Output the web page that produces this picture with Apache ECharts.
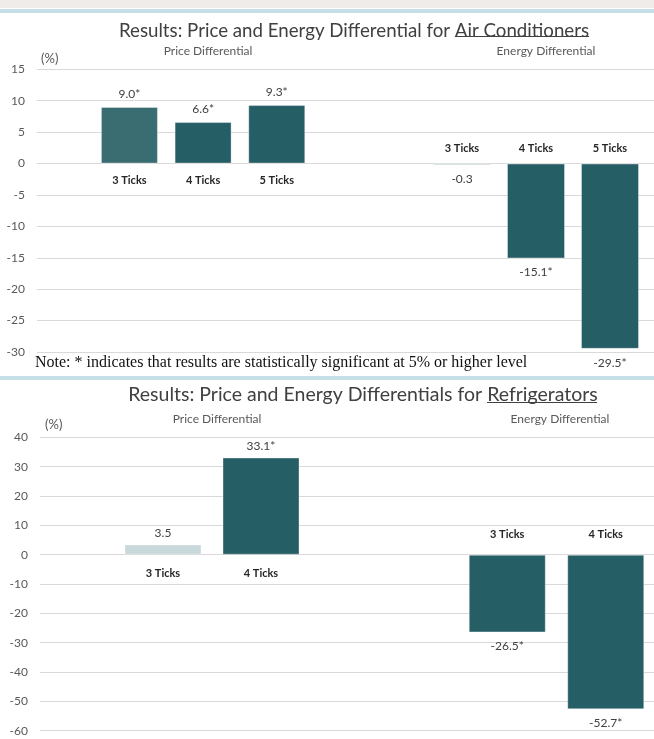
<!DOCTYPE html>
<html>
<head>
<meta charset="utf-8">
<script src="https://cdn.jsdelivr.net/npm/echarts@6/dist/echarts.min.js"></script>
<style>
  html, body { margin: 0; padding: 0; background: #fff; }
  #chart { width: 654px; height: 739px; }
</style>
</head>
<body>
<div id="chart"></div>
<script>
// air conditioners
const acCategories = ['3 Ticks', '4 Ticks', '5 Ticks'];
const acPrice = [9.0, 6.6, 9.3];
const acPriceSig = [true, true, true];
const acEnergy = [-0.3, -15.1, -29.5];
const acEnergySig = [false, true, true];
const acTicks = { min: -30, max: 15, interval: 5 };

// refrigerators
const refCategories = ['3 Ticks', '4 Ticks'];
const refPrice = [3.5, 33.1];
const refPriceSig = [false, true];
const refEnergy = [-26.5, -52.7];
const refEnergySig = [true, true];
const refTicks = { min: -60, max: 40, interval: 10 };

const DARK = '#265e66';
const LIGHT = '#c9d8da';
const FONT = 'Lato, "Open Sans", sans-serif';

const AC_TOP = 69.3, AC_H = 282.7;
const REF_TOP = 437.3, REF_H = 293.4;

function barData (values, sig, firstColor) {
  return values.map((v, i) => ({
    value: v,
    itemStyle: { color: i === 0 && firstColor ? firstColor : (sig[i] ? DARK : LIGHT) },
    label: { position: v < 0 ? 'bottom' : 'top' }
  }));
}

function labelFmt (sig) {
  return (p) => p.value.toFixed(1) + (sig[p.dataIndex] ? '*' : '');
}

function bgY (idx, t) {
  return {
    type: 'value', gridIndex: idx, min: t.min, max: t.max, interval: t.interval,
    axisLine: { show: false }, axisTick: { show: false },
    axisLabel: { color: '#595959', fontSize: 12, fontFamily: FONT, margin: 12 },
    splitLine: { lineStyle: { color: '#d9d9d9' } }
  };
}

function hiddenY (idx, t) {
  return { type: 'value', gridIndex: idx, min: t.min, max: t.max, interval: t.interval, show: false };
}

// category axis sitting on the zero line of the value scale
function catX (idx, cats, pos, margin, t, h) {
  const zeroFromTop = h * t.max / (t.max - t.min);
  const offset = pos === 'top' ? -zeroFromTop : -(h - zeroFromTop);
  return {
    type: 'category', gridIndex: idx, data: cats, position: pos, offset: offset,
    axisLine: { show: false, onZero: false }, axisTick: { show: false },
    axisLabel: { color: '#262626', fontSize: 11, fontWeight: 'bold', fontFamily: FONT, margin: margin }
  };
}

function barSeries (idx, values, sig, width, dist, firstColor) {
  return {
    type: 'bar', xAxisIndex: idx, yAxisIndex: idx, barWidth: width,
    data: barData(values, sig, firstColor),
    itemStyle: { borderColor: 'rgba(255,255,255,0.35)', borderWidth: 1 },
    label: { show: true, distance: dist, color: '#404040', fontSize: 12, fontFamily: FONT, formatter: labelFmt(sig) },
    silent: true
  };
}

const subStyle = { color: '#595959', fontSize: 12, fontFamily: FONT, fontWeight: 'normal' };
const pctStyle = { color: '#595959', fontSize: 13, fontFamily: FONT, fontWeight: 'normal' };

const option = {
  animation: false,
  title: [
    { text: 'Results: Price and Energy Differential for Air Conditioners', left: 349, top: 16, textAlign: 'center',
      textStyle: { color: '#404040', fontSize: 18.7, fontFamily: FONT, fontWeight: 'normal' } },
    { text: 'Price Differential', left: 203, top: 40, textAlign: 'center', textStyle: subStyle },
    { text: 'Energy Differential', left: 541, top: 40, textAlign: 'center', textStyle: subStyle },
    { text: '(%)', left: 36, top: 47, textStyle: pctStyle },
    { text: 'Results: Price and Energy Differentials for Refrigerators', left: 358, top: 380, textAlign: 'center',
      textStyle: { color: '#404040', fontSize: 19.5, fontFamily: FONT, fontWeight: 'normal' } },
    { text: 'Price Differential', left: 212, top: 408, textAlign: 'center', textStyle: subStyle },
    { text: 'Energy Differential', left: 555, top: 408, textAlign: 'center', textStyle: subStyle },
    { text: '(%)', left: 40, top: 413, textStyle: pctStyle }
  ],
  grid: [
    { left: 37, right: 0, top: AC_TOP, height: AC_H, outerBoundsMode: 'none' },
    { left: 92.6, width: 221, top: AC_TOP, height: AC_H, outerBoundsMode: 'none' },
    { left: 425, width: 222, top: AC_TOP, height: AC_H, outerBoundsMode: 'none' },
    { left: 40, right: 0, top: REF_TOP, height: REF_H, outerBoundsMode: 'none' },
    { left: 114, width: 196, top: REF_TOP, height: REF_H, outerBoundsMode: 'none' },
    { left: 458, width: 197, top: REF_TOP, height: REF_H, outerBoundsMode: 'none' }
  ],
  xAxis: [
    { type: 'value', gridIndex: 0, show: false },
    catX(1, acCategories, 'bottom', 11, acTicks, AC_H),
    catX(2, acCategories, 'top', 10, acTicks, AC_H),
    { type: 'value', gridIndex: 3, show: false },
    catX(4, refCategories, 'bottom', 13, refTicks, REF_H),
    catX(5, refCategories, 'top', 15, refTicks, REF_H)
  ],
  yAxis: [
    bgY(0, acTicks), hiddenY(1, acTicks), hiddenY(2, acTicks),
    bgY(3, refTicks), hiddenY(4, refTicks), hiddenY(5, refTicks)
  ],
  series: [
    barSeries(1, acPrice, acPriceSig, 57, 7, '#3a6d71'),
    barSeries(2, acEnergy, acEnergySig, 58, 8),
    barSeries(4, refPrice, refPriceSig, 77, 5),
    barSeries(5, refEnergy, refEnergySig, 77, 8)
  ],
  graphic: [
    { type: 'rect', shape: { x: 0, y: 0, width: 654, height: 8 }, style: { fill: '#efecea' }, silent: true },
    { type: 'rect', shape: { x: 0, y: 9, width: 654, height: 4 }, style: { fill: '#c6e0e7' }, silent: true },
    { type: 'rect', shape: { x: 0, y: 376, width: 654, height: 4 }, style: { fill: '#c6e0e7' }, silent: true },
    { type: 'line', shape: { x1: 455, y1: 36.5, x2: 589, y2: 36.5 }, style: { stroke: '#404040', lineWidth: 1 }, silent: true },
    { type: 'line', shape: { x1: 487, y1: 402.5, x2: 597, y2: 402.5 }, style: { stroke: '#404040', lineWidth: 1 }, silent: true },
    { type: 'text', left: 35, top: 355,
      style: { text: 'Note: * indicates that results are statistically significant at 5% or higher level',
        fill: '#111', font: '16px "Liberation Serif", "DejaVu Serif", serif' } }
  ]
};

const myChart = echarts.init(document.getElementById('chart'));
myChart.setOption(option);
</script>
</body>
</html>
